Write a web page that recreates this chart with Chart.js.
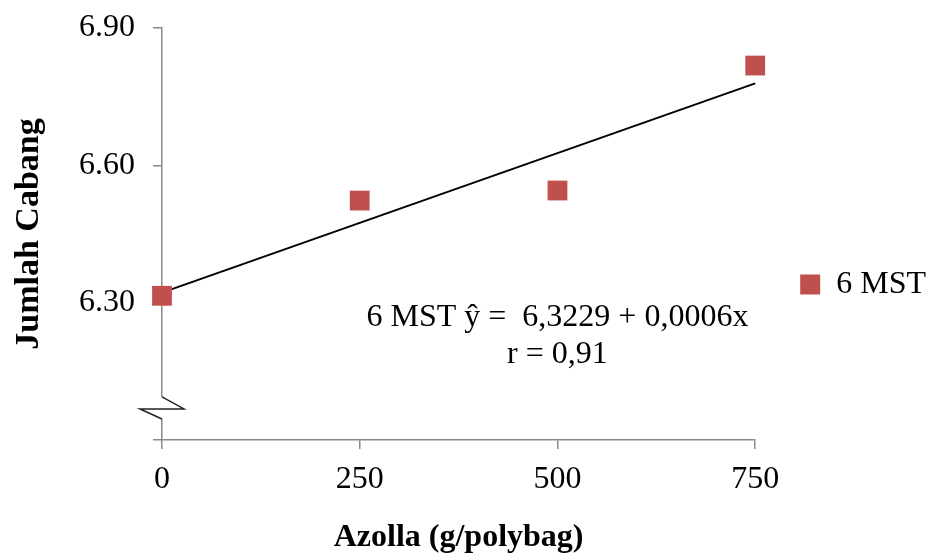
<!DOCTYPE html>
<html>
<head>
<meta charset="utf-8">
<script src="https://cdn.jsdelivr.net/npm/chart.js@4/dist/chart.umd.min.js"></script>
<style>
  body { margin: 0; background: #fff; }
</style>
</head>
<body>
<canvas id="myChart" width="936" height="557"></canvas>
<script>
// data
const doses = [0, 250, 500, 750];               // Azolla (g/polybag)
const cabang6MST = [6.315, 6.523, 6.545, 6.818]; // Jumlah Cabang, 6 MST
const trendDoses = [0, 750];
const trendValues = [6.322, 6.779];
const yMin = 6.0, yMax = 6.9, yStep = 0.3;
const xMin = 0, xMax = 750, xStep = 250;
const equationLines = ['6 MST \u0177 =  6,3229 + 0,0006x', 'r = 0,91'];
const breakValue = 6.07;

const serif = '"Liberation Serif", "Times New Roman", serif';
const axisGrey = '#8a8a8a';

// equation text + axis break marker
const extras = {
  id: 'extras',
  afterDraw(chart) {
    const ctx = chart.ctx;
    const xs = chart.scales.x, ys = chart.scales.y;

    // broken y axis
    let ax = xs.getPixelForValue(xMin);
    let yb = ys.getPixelForValue(breakValue);
    ctx.save();
    ctx.fillStyle = '#fff';
    ctx.fillRect(ax - 24, yb - 11, 60, 22);
    ctx.strokeStyle = '#222';
    ctx.lineWidth = 1.5;
    ctx.beginPath();
    ctx.moveTo(ax, yb - 11);
    ctx.lineTo(ax + 22, yb + 1);
    ctx.lineTo(ax - 22, yb + 1);
    ctx.lineTo(ax, yb + 11);
    ctx.stroke();
    ctx.restore();

    // regression text
    ctx.save();
    ctx.fillStyle = '#000';
    ctx.font = '32px ' + serif;
    ctx.textAlign = 'center';
    ctx.textBaseline = 'alphabetic';
    let tx = xs.getPixelForValue(500);
    let ty = ys.getPixelForValue(6.25);
    equationLines.forEach((line, i) => ctx.fillText(line, tx, ty + i * 37));
    ctx.restore();
  }
};

const ctx = document.getElementById('myChart');
const chart = new Chart(ctx, {
  type: 'scatter',
  data: {
    datasets: [{
      label: '6 MST',
      data: doses.map((d, i) => ({ x: d, y: cabang6MST[i] })),
      pointStyle: 'rect',
      pointRadius: 14,
      pointHoverRadius: 14,
      backgroundColor: '#C0504D',
      borderColor: '#C0504D',
      borderWidth: 0,
      clip: false,
      order: 1
    }, {
      label: 'trend',
      type: 'line',
      data: trendDoses.map((d, i) => ({ x: d, y: trendValues[i] })),
      borderColor: '#000',
      borderWidth: 2,
      pointRadius: 0,
      fill: false,
      clip: false,
      order: 2
    }]
  },
  options: {
    responsive: false,
    animation: false,
    devicePixelRatio: 1,
    layout: { padding: { top: 12, left: 0, right: 0, bottom: 0 } },
    scales: {
      x: {
        type: 'linear',
        min: xMin,
        max: xMax,
        afterFit: function (scale) { scale.height = 117; },
        ticks: {
          stepSize: xStep,
          color: '#000',
          font: { family: serif, size: 32 },
          padding: 11
        },
        grid: { drawOnChartArea: false, drawTicks: true, tickLength: 9, color: axisGrey, lineWidth: 1.5 },
        border: { color: axisGrey, width: 1.5 },
        title: {
          display: true,
          text: 'Azolla (g/polybag)',
          color: '#000',
          font: { family: serif, size: 32, weight: 'bold' },
          padding: 0
        }
      },
      y: {
        min: yMin,
        max: yMax,
        afterFit: function (scale) {
          scale.width = 162;
          scale.paddingTop = 28;
        },
        ticks: {
          stepSize: yStep,
          color: '#000',
          font: { family: serif, size: 32 },
          padding: 18,
          callback: function (val) {
            return val < yMin + 0.1 ? '' : val.toFixed(2);
          }
        },
        grid: { drawOnChartArea: false, drawTicks: true, tickLength: 9, color: axisGrey, lineWidth: 1.5 },
        border: { color: axisGrey, width: 1.5 },
        title: {
          display: true,
          text: 'Jumlah Cabang',
          color: '#000',
          font: { family: serif, size: 34, weight: 'bold' },
          padding: { top: 9, bottom: 0 }
        }
      }
    },
    plugins: {
      legend: {
        position: 'right',
        labels: {
          filter: item => item.text !== 'trend',
          boxWidth: 20,
          boxHeight: 20,
          color: '#000',
          font: { family: serif, size: 32 },
          padding: 45
        }
      },
      tooltip: { enabled: false }
    }
  },
  plugins: [extras]
});
</script>
</body>
</html>
